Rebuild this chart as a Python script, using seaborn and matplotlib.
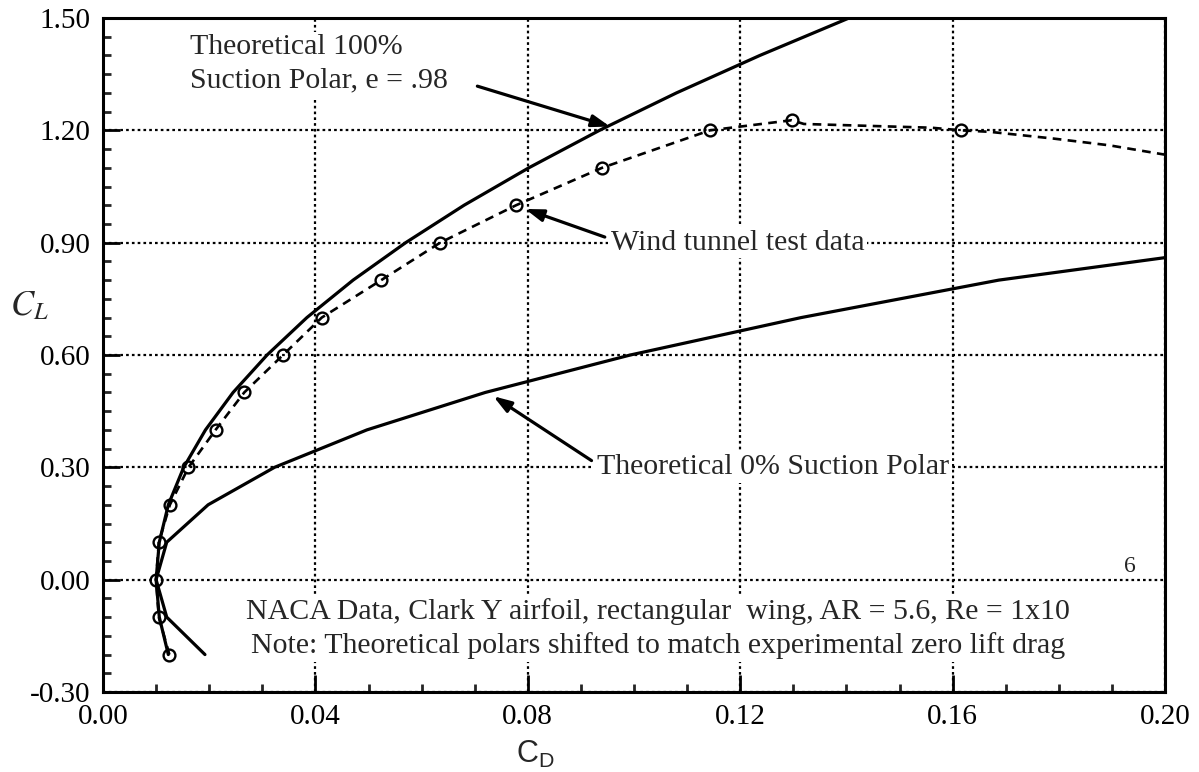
import matplotlib
matplotlib.use("Agg")
import matplotlib.pyplot as plt
import numpy as np
import pandas as pd
import seaborn as sns
from matplotlib.ticker import MultipleLocator, FixedLocator, FormatStrFormatter

# ---------------- data ----------------
full_suction_cl = [-0.2, -0.1, 0.0, 0.1, 0.2, 0.3, 0.4, 0.5, 0.6, 0.7, 0.8,
                   0.9, 1.0, 1.1, 1.2, 1.3, 1.4, 1.5]
full_suction_cd = [0.0123, 0.0106, 0.0100, 0.0106, 0.0123, 0.0152, 0.0193,
                   0.0245, 0.0309, 0.0384, 0.0471, 0.0570, 0.0680, 0.0802,
                   0.0935, 0.1080, 0.1237, 0.1405]

zero_suction_cl = [-0.2, -0.1, 0.0, 0.1, 0.2, 0.3, 0.4, 0.5, 0.6, 0.7, 0.8, 0.86]
zero_suction_cd = [0.0192, 0.0120, 0.0100, 0.0120, 0.0198, 0.0323, 0.0497,
                   0.0720, 0.0993, 0.1315, 0.1687, 0.2000]

test_cl = [-0.2, -0.1, 0.0, 0.1, 0.2, 0.3, 0.4, 0.5, 0.6, 0.7, 0.8, 0.9,
           1.0, 1.1, 1.2, 1.227, 1.2]
test_cd = [0.0125, 0.0105, 0.0100, 0.0105, 0.0126, 0.0161, 0.0212, 0.0266,
           0.0339, 0.0412, 0.0524, 0.0635, 0.0778, 0.0940, 0.1143, 0.1297, 0.1616]

trace_cl = [-0.2, -0.1, 0.0, 0.1, 0.2, 0.3, 0.4, 0.5, 0.6, 0.7, 0.8, 0.9,
            1.0, 1.1, 1.2, 1.227, 1.217, 1.207, 1.2, 1.196, 1.178, 1.16, 1.135]
trace_cd = [0.0125, 0.0105, 0.0100, 0.0105, 0.0126, 0.0161, 0.0212, 0.0266,
            0.0339, 0.0412, 0.0524, 0.0635, 0.0778, 0.0940, 0.1143, 0.1297,
            0.1320, 0.1560, 0.1616, 0.1670, 0.1790, 0.1895, 0.2000]

x_ticks = [0.00, 0.04, 0.08, 0.12, 0.16, 0.20]
y_ticks = [-0.30, 0.00, 0.30, 0.60, 0.90, 1.20, 1.50]

label_100 = "Theoretical 100%\nSuction Polar, e = .98"
label_test = "Wind tunnel test data"
label_0 = "Theoretical 0% Suction Polar"
note_text = ("NACA Data, Clark Y airfoil, rectangular  wing, AR = 5.6, Re = 1x10\n"
             "Note: Theoretical polars shifted to match experimental zero lift drag")

# ---------------- style ----------------
sns.set_theme(style="ticks")
plt.rcParams["font.family"] = ["Liberation Serif", "DejaVu Serif"]
plt.rcParams["mathtext.fontset"] = "stix"
plt.rcParams["axes.unicode_minus"] = False

W, H = 1199, 772
fig = plt.figure(figsize=(W / 100, H / 100), dpi=100)
ax = fig.add_axes([103 / W, 80 / H, 1062 / W, 674 / H])

full_df = pd.DataFrame({"CD": full_suction_cd, "CL": full_suction_cl})
zero_df = pd.DataFrame({"CD": zero_suction_cd, "CL": zero_suction_cl})
trace_df = pd.DataFrame({"CD": trace_cd, "CL": trace_cl})
test_df = pd.DataFrame({"CD": test_cd, "CL": test_cl})

sns.lineplot(data=full_df, x="CD", y="CL", sort=False, estimator=None,
             color="black", linewidth=2.3, ax=ax, zorder=3)
sns.lineplot(data=zero_df, x="CD", y="CL", sort=False, estimator=None,
             color="black", linewidth=2.3, ax=ax, zorder=3)
sns.lineplot(data=trace_df, x="CD", y="CL", sort=False, estimator=None,
             color="black", linewidth=1.9, ax=ax, zorder=3,
             linestyle=(0, (3.3, 2.4)))
ax.plot(test_df["CD"], test_df["CL"], linestyle="none", marker="o",
        markersize=8.5, markerfacecolor="none", markeredgecolor="black",
        markeredgewidth=1.7, zorder=4)

ax.set_xlim(0.0, 0.2)
ax.set_ylim(-0.3, 1.5)
ax.xaxis.set_major_locator(FixedLocator(x_ticks))
ax.yaxis.set_major_locator(FixedLocator(y_ticks))
ax.xaxis.set_minor_locator(MultipleLocator(0.01))
ax.yaxis.set_minor_locator(MultipleLocator(0.05))
ax.xaxis.set_major_formatter(FormatStrFormatter("%.2f"))
ax.yaxis.set_major_formatter(FormatStrFormatter("%.2f"))

ax.grid(True, which="major", color="black", linestyle=(0, (1.2, 1.4)),
        linewidth=1.6, zorder=0.5)
ax.set_axisbelow(True)
for s in ax.spines.values():
    s.set_linewidth(2.2)
    s.set_color("black")
ax.tick_params(which="major", direction="in", length=12, width=2.0,
               labelsize=21, pad=9, colors="black", top=False, right=False)
ax.tick_params(which="minor", direction="in", length=6, width=2.0,
               top=False, right=False)

ax.set_xlabel("")
ax.set_ylabel("")
ax.text(0.407, -0.092, r"$\mathregular{C_D}$", transform=ax.transAxes,
        family="Liberation Sans", fontsize=22, ha="center", va="center")
ax.text(-0.069, 0.572, r"$C_L$", transform=ax.transAxes,
        fontsize=25, ha="center", va="center")

box = dict(facecolor="white", edgecolor="none", pad=2)
ax.text(0.0164, 1.377, label_100, fontsize=21.5, ha="left", va="center",
        linespacing=1.38, bbox=box, zorder=2)
ax.text(0.0956, 0.90, label_test, fontsize=21.5, ha="left", va="center",
        bbox=box, zorder=2)
ax.text(0.0930, 0.30, label_0, fontsize=21.5, ha="left", va="center",
        bbox=box, zorder=2)
ax.text(0.1045, -0.131, note_text, fontsize=21.5, ha="center", va="center",
        linespacing=1.32, bbox=box, zorder=2)
ax.text(0.1934, 0.034, "6", fontsize=17, ha="center", va="center", zorder=2)

arrow = dict(arrowstyle="-|>,head_length=0.9,head_width=0.3", color="black",
             linewidth=2.3, shrinkA=0, shrinkB=0)
ax.annotate("", xy=(0.0955, 1.21), xytext=(0.0705, 1.318), arrowprops=arrow, zorder=5)
ax.annotate("", xy=(0.0795, 0.99), xytext=(0.0945, 0.915), arrowprops=arrow, zorder=5)
ax.annotate("", xy=(0.0735, 0.49), xytext=(0.0920, 0.318), arrowprops=arrow, zorder=5)

fig.savefig("out.png", dpi=100)
